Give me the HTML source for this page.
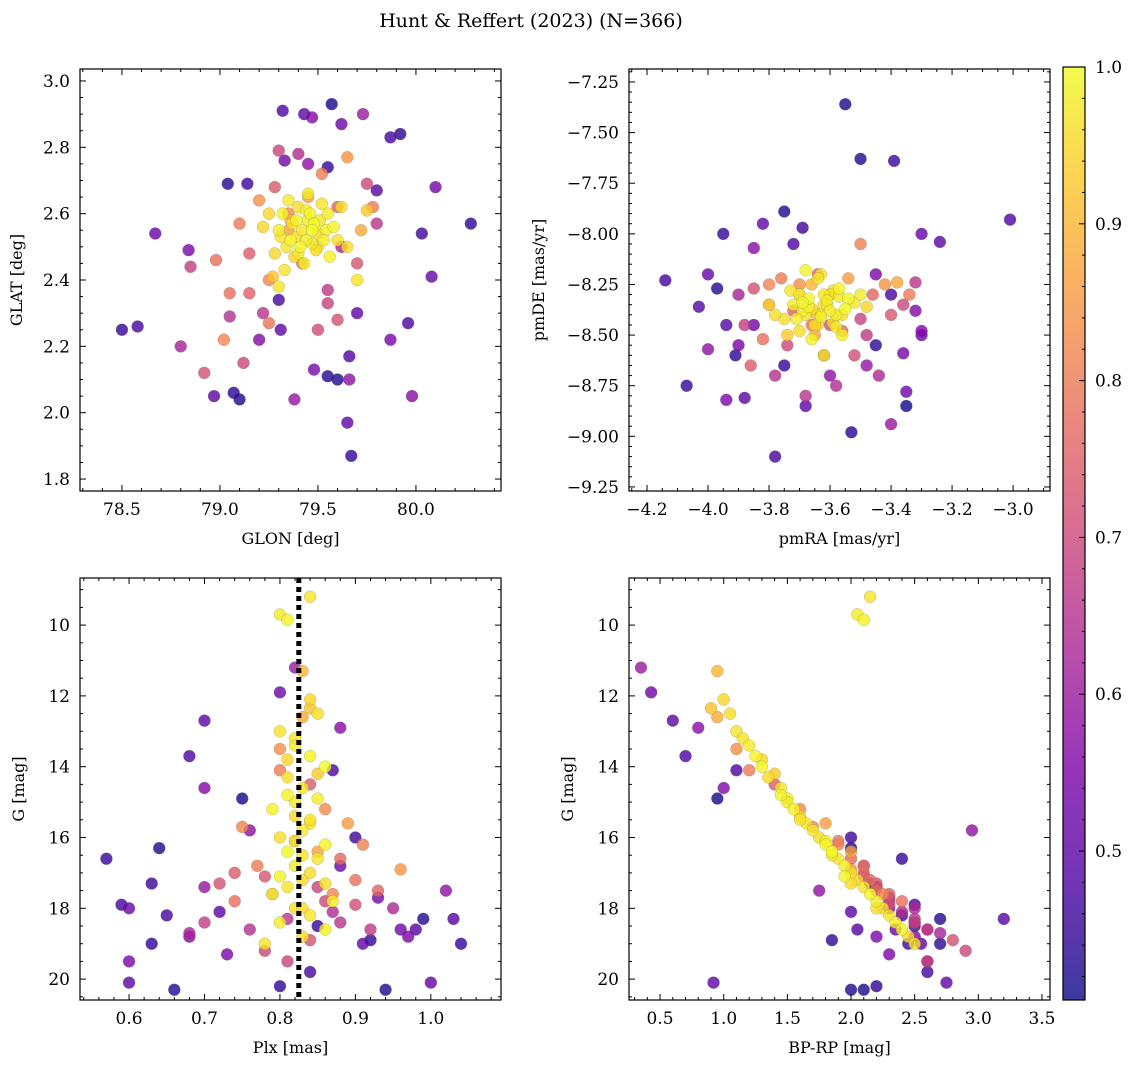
<!DOCTYPE html>
<html><head><meta charset="utf-8">
<style>
body{margin:0;background:#fff;}
svg{display:block;font-family:"DejaVu Serif","Liberation Serif",serif;}
</style></head>
<body>
<svg id="chart" width="1136" height="1068" viewBox="0 0 1136 1068" xmlns="http://www.w3.org/2000/svg">
<defs>
<linearGradient id="plasma" x1="0" y1="1" x2="0" y2="0">
<stop offset="0" stop-color="#0d0887"/><stop offset="0.125" stop-color="#4c02a1"/>
<stop offset="0.25" stop-color="#7e03a8"/><stop offset="0.375" stop-color="#a92395"/>
<stop offset="0.5" stop-color="#cc4778"/><stop offset="0.625" stop-color="#e66c5c"/>
<stop offset="0.75" stop-color="#f89540"/><stop offset="0.875" stop-color="#fdc527"/>
<stop offset="1" stop-color="#f0f921"/></linearGradient>
</defs>
<text x="531" y="27" text-anchor="middle" font-size="19">Hunt &amp; Reffert (2023) (N=366)</text>
</svg>
<script>
const glon=[78.5,78.58,78.67,78.84,78.97,79.07,79.1,79.04,79.14,79.32,79.43,79.47,79.57,79.62,79.73,79.92,79.87,79.6,79.65,79.67,79.66,79.66,79.55,79.87,79.98,79.96,80.03,80.08,80.1,80.28,79.38,79.31,79.3,79.2,79.45,79.55,79.33,79.8,79.7,79.48,
78.8,78.85,78.92,78.98,79.02,79.05,79.1,79.12,79.15,79.2,79.22,79.25,79.28,79.3,79.35,79.4,79.42,79.45,79.5,79.52,79.55,79.6,79.62,79.65,79.7,79.72,79.75,79.78,79.8,79.15,79.05,79.35,79.55,79.25,79.6,
79.3,79.32,79.34,79.36,79.38,79.4,79.42,79.44,79.46,79.48,79.5,79.52,79.54,79.56,79.28,79.31,79.35,79.39,79.43,79.47,79.51,79.55,79.6,79.25,79.37,79.41,79.45,79.49,79.33,79.53,79.58,79.62,79.7,79.75,79.22,79.27,79.45,79.4,79.36,79.5,79.44,79.47,79.39,79.65,79.3];
const glat=[2.25,2.26,2.54,2.49,2.05,2.06,2.04,2.69,2.69,2.91,2.9,2.89,2.93,2.87,2.9,2.84,2.83,2.1,1.97,1.87,2.17,2.1,2.11,2.22,2.05,2.27,2.54,2.41,2.68,2.57,2.04,2.25,2.34,2.22,2.75,2.74,2.76,2.67,2.3,2.13,
2.2,2.44,2.12,2.46,2.22,2.29,2.57,2.15,2.36,2.64,2.3,2.27,2.68,2.79,2.6,2.78,2.45,2.65,2.25,2.72,2.37,2.62,2.5,2.77,2.45,2.55,2.69,2.62,2.57,2.48,2.36,2.55,2.33,2.4,2.28,
2.55,2.6,2.5,2.58,2.47,2.62,2.55,2.52,2.6,2.57,2.5,2.63,2.55,2.47,2.48,2.53,2.64,2.53,2.45,2.55,2.58,2.6,2.52,2.6,2.57,2.5,2.66,2.49,2.43,2.52,2.56,2.62,2.4,2.61,2.56,2.41,2.58,2.48,2.52,2.54,2.61,2.51,2.58,2.5,2.38];
const pmra=[-4.07,-4.14,-4.0,-3.94,-3.88,-3.91,-3.55,-3.5,-3.39,-3.01,-3.24,-3.3,-3.35,-3.35,-3.4,-3.53,-3.78,-3.75,-3.82,-3.95,-4.03,-4.0,-3.97,-3.9,-3.85,-3.72,-3.69,-3.3,-3.36,-3.45,-3.48,-3.68,-3.4,-3.32,-3.6,-3.75,-3.85,-3.94,-3.3,-3.45,
-3.9,-3.88,-3.85,-3.82,-3.8,-3.78,-3.76,-3.74,-3.72,-3.7,-3.68,-3.66,-3.64,-3.62,-3.6,-3.58,-3.56,-3.54,-3.52,-3.5,-3.48,-3.46,-3.44,-3.42,-3.4,-3.38,-3.36,-3.34,-3.32,-3.86,-3.8,-3.65,-3.5,-3.7,-3.6,
-3.72,-3.7,-3.68,-3.66,-3.64,-3.62,-3.6,-3.58,-3.56,-3.54,-3.75,-3.73,-3.69,-3.67,-3.65,-3.63,-3.61,-3.59,-3.57,-3.55,-3.52,-3.5,-3.78,-3.8,-3.62,-3.66,-3.6,-3.7,-3.64,-3.58,-3.68,-3.56,-3.62,-3.74,-3.48,-3.65,-3.63,-3.61,-3.67,-3.59,-3.71,-3.57,-3.69,-3.66,-3.63];
const pmde=[-8.75,-8.23,-8.2,-8.82,-8.81,-8.6,-7.36,-7.63,-7.64,-7.93,-8.04,-8.48,-8.85,-8.78,-8.94,-8.98,-9.1,-7.89,-7.95,-8.0,-8.36,-8.57,-8.27,-8.55,-8.07,-8.05,-7.97,-8.5,-8.59,-8.55,-8.65,-8.85,-8.3,-8.38,-8.7,-8.65,-8.45,-8.45,-8.0,-8.2,
-8.3,-8.45,-8.27,-8.52,-8.25,-8.7,-8.22,-8.55,-8.38,-8.25,-8.8,-8.45,-8.2,-8.6,-8.3,-8.75,-8.48,-8.22,-8.6,-8.05,-8.5,-8.3,-8.7,-8.25,-8.4,-8.24,-8.35,-8.3,-8.24,-8.65,-8.35,-8.5,-8.42,-8.3,-8.45,
-8.35,-8.3,-8.4,-8.25,-8.45,-8.35,-8.3,-8.4,-8.5,-8.32,-8.42,-8.28,-8.38,-8.36,-8.45,-8.2,-8.33,-8.44,-8.27,-8.37,-8.34,-8.3,-8.4,-8.35,-8.6,-8.52,-8.38,-8.48,-8.22,-8.46,-8.18,-8.4,-8.3,-8.5,-8.36,-8.39,-8.41,-8.35,-8.32,-8.28,-8.42,-8.31,-8.34,-8.37,-8.4];
const plx=[0.57,0.59,0.6,0.6,0.6,0.63,0.64,0.66,0.63,0.68,0.7,0.7,0.75,0.8,0.82,0.8,0.84,0.94,1.0,1.04,1.03,1.02,0.99,0.97,0.88,0.87,0.9,0.88,0.93,0.92,0.7,0.72,0.65,0.68,0.76,0.85,0.96,0.98,0.91,0.73,
0.68,0.7,0.72,0.74,0.75,0.76,0.77,0.78,0.79,0.8,0.81,0.82,0.84,0.85,0.86,0.87,0.88,0.89,0.9,0.91,0.92,0.93,0.95,0.96,0.78,0.83,0.86,0.8,0.88,0.74,0.9,0.85,0.81,0.87,0.84,
0.8,0.81,0.84,0.83,0.84,0.85,0.8,0.82,0.84,0.86,0.81,0.83,0.85,0.79,0.82,0.84,0.83,0.8,0.86,0.81,0.85,0.82,0.84,0.83,0.81,0.79,0.87,0.82,0.84,0.8,0.86,0.83,0.78,0.85,0.81,0.84,0.82,0.83,0.8,0.86,0.82,0.84,0.81,0.83,0.82];
const gmag=[16.6,17.9,18.0,19.5,20.1,19.0,16.3,20.3,17.3,13.7,12.7,14.6,14.9,11.9,11.2,20.2,19.8,20.3,20.1,19.0,18.3,17.5,18.3,18.8,12.9,14.1,16.0,16.8,17.7,18.9,17.4,18.1,18.2,18.8,15.8,18.5,18.6,18.6,19.0,19.3,
18.7,18.4,17.3,17.8,15.7,18.6,16.8,19.2,17.6,13.5,18.3,16.1,14.5,17.4,15.2,18.1,16.6,15.6,17.9,16.2,18.6,17.5,18.0,16.9,17.1,12.6,17.8,14.1,18.4,17.0,17.2,16.4,19.5,17.6,18.9,
9.7,9.85,9.2,11.3,12.1,12.5,13.0,13.4,13.7,14.0,14.3,14.6,14.9,15.2,15.4,15.6,15.8,16.0,16.2,16.4,16.6,16.8,17.0,17.2,17.4,17.6,17.8,18.0,18.2,18.4,18.6,18.8,19.0,14.2,13.8,12.35,15.0,16.5,17.1,17.3,16.1,15.5,14.8,18.0,13.2];
const bprp=[2.4,2.5,2.3,2.6,0.92,2.7,2.0,2.0,2.15,0.7,0.6,1.0,0.95,0.43,0.35,2.2,2.6,2.1,2.75,2.45,3.2,1.75,2.7,2.2,0.8,1.1,2.0,2.1,2.3,1.85,2.2,2.0,2.4,2.5,2.95,2.5,2.35,2.05,2.55,2.3,
2.7,2.5,2.2,2.4,1.7,2.6,2.1,2.9,2.3,1.1,2.5,1.9,1.4,2.2,1.6,2.4,2.0,1.8,2.3,1.9,2.6,2.2,2.5,2.0,2.1,0.95,2.3,1.2,2.5,2.1,2.15,2.0,2.6,2.25,2.8,
2.05,2.1,2.15,0.95,1.0,1.05,1.1,1.2,1.25,1.3,1.35,1.45,1.5,1.55,1.6,1.65,1.7,1.75,1.8,1.85,1.9,1.95,2.0,2.05,2.1,2.15,2.2,2.25,2.3,2.35,2.4,2.45,2.5,1.4,1.3,0.9,1.5,1.85,1.95,2.0,1.8,1.6,1.45,2.2,1.15];
const prob=[0.45,0.47,0.52,0.55,0.5,0.44,0.42,0.43,0.46,0.48,0.5,0.56,0.41,0.53,0.6,0.44,0.47,0.42,0.51,0.45,0.49,0.58,0.43,0.55,0.57,0.48,0.46,0.52,0.54,0.44,0.59,0.5,0.47,0.56,0.58,0.45,0.53,0.49,0.51,0.55,
0.62,0.68,0.72,0.78,0.82,0.65,0.8,0.7,0.75,0.84,0.66,0.79,0.74,0.69,0.83,0.64,0.77,0.86,0.71,0.81,0.67,0.76,0.63,0.85,0.73,0.88,0.7,0.8,0.66,0.74,0.78,0.87,0.69,0.82,0.72,
0.98,0.99,0.97,0.9,0.95,0.96,0.97,0.98,0.99,1.0,0.96,0.97,0.98,0.99,0.95,0.97,0.98,0.96,0.99,1.0,0.97,0.98,0.96,0.95,0.97,0.99,0.98,0.96,0.97,0.98,0.99,0.96,0.97,0.93,0.95,0.92,0.98,0.97,0.99,0.96,0.98,0.97,0.99,0.96,0.97];
const cbTicks=[0.5,0.6,0.7,0.8,0.9,1.0];
const plxMean=[0.825];

const NS='http://www.w3.org/2000/svg';
const svg=document.getElementById('chart');
function mk(tag,attrs,parent){const e=document.createElementNS(NS,tag);for(const k in attrs)e.setAttribute(k,attrs[k]);(parent||svg).appendChild(e);return e;}
const PL=[[13,8,135],[76,2,161],[126,3,168],[169,35,149],[204,71,120],[230,108,92],[248,149,64],[253,197,39],[240,249,33]];
const VMIN=0.405,VMAX=1.0;
function cmap(v){let t=Math.max(0,Math.min(1,(v-VMIN)/(VMAX-VMIN)))*8;let i=Math.min(7,Math.floor(t)),f=t-i;const a=PL[i],b=PL[i+1];return 'rgb('+a.map((c,k)=>Math.round(c+(b[k]-c)*f)).join(',')+')';}
function fmt(v,d){const s=Math.abs(v).toFixed(d);return (v<-1e-9?'\u2212':'')+s;}

function panel(o){
  const g=mk('g',{});
  
  
  const X=v=>o.x0+(v-o.xr[0])/(o.xr[1]-o.xr[0])*(o.x1-o.x0);
  const Y=o.yinv?(v=>o.y0+(v-o.yr[0])/(o.yr[1]-o.yr[0])*(o.y1-o.y0)):(v=>o.y1-(v-o.yr[0])/(o.yr[1]-o.yr[0])*(o.y1-o.y0));
  const clip='c'+o.name;
  const cp=mk('clipPath',{id:clip},g);mk('rect',{x:o.x0,y:o.y0,width:o.x1-o.x0,height:o.y1-o.y0},cp);
  const pts=mk('g',{'clip-path':'url(#'+clip+')'},g);
  
  
  const idx=o.xs.map((_,i)=>i).sort((a,b)=>prob[a]-prob[b]);
  idx.forEach(i=>{const c=mk('circle',{cx:X(o.xs[i]),cy:Y(o.ys[i]),r:6,fill:cmap(prob[i]),'fill-opacity':0.8,stroke:'#666','stroke-width':0.4,'stroke-opacity':0.5},pts);
    
    });
  if(o.extra)o.extra(pts,X,Y);
  const fr=mk('rect',{x:o.x0,y:o.y0,width:o.x1-o.x0,height:o.y1-o.y0,fill:'none',stroke:'#000','stroke-width':1.2},g);
  
  
  const eps=1e-9;
  for(let v=Math.ceil(o.xr[0]/o.xmin-eps)*o.xmin;v<=o.xr[1]+eps;v+=o.xmin){
    const px=X(v);const maj=Math.abs(v/o.xmaj-Math.round(v/o.xmaj))<1e-6;const L=maj?6:3;
    mk('line',{x1:px,x2:px,y1:o.y1,y2:o.y1-L,stroke:'#000','stroke-width':1},g);
    mk('line',{x1:px,x2:px,y1:o.y0,y2:o.y0+L,stroke:'#000','stroke-width':1},g);
    if(maj){const t=mk('text',{x:px,y:o.y1+24,'text-anchor':'middle','font-size':17},g);t.textContent=fmt(v,o.xd);
      
      }
  }
  for(let v=Math.ceil(o.yr[0]/o.ymin-eps)*o.ymin;v<=o.yr[1]+eps;v+=o.ymin){
    const py=Y(v);const maj=Math.abs(v/o.ymaj-Math.round(v/o.ymaj))<1e-6;const L=maj?6:3;
    mk('line',{x1:o.x0,x2:o.x0+L,y1:py,y2:py,stroke:'#000','stroke-width':1},g);
    mk('line',{x1:o.x1,x2:o.x1-L,y1:py,y2:py,stroke:'#000','stroke-width':1},g);
    if(maj){const t=mk('text',{x:o.x0-10,y:py+6,'text-anchor':'end','font-size':17},g);t.textContent=fmt(v,o.yd);
      
      }
  }
  const xl=mk('text',{x:(o.x0+o.x1)/2,y:o.y1+53,'text-anchor':'middle','font-size':16},g);xl.textContent=o.xlab;
  
  
  const yx=o.x0-o.ylo;const yy=(o.y0+o.y1)/2;
  const yl=mk('text',{x:yx,y:yy,'text-anchor':'middle','font-size':16,transform:'rotate(-90 '+yx+' '+yy+')'},g);yl.textContent=o.ylab;
  
  
}
panel({name:'glon-glat-panel',x0:80,x1:501,y0:69,y1:491,xr:[78.286,80.434],yr:[1.764,3.036],xs:glon,ys:glat,xmaj:0.5,xmin:0.1,ymaj:0.2,ymin:0.05,xd:1,yd:1,xlab:'GLON [deg]',ylab:'GLAT [deg]',ylo:58});
panel({name:'proper-motion-panel',x0:629,x1:1050,y0:69,y1:491,xr:[-4.259,-2.879],yr:[-9.27,-7.186],xs:pmra,ys:pmde,xmaj:0.2,xmin:0.05,ymaj:0.25,ymin:0.05,xd:1,yd:2,xlab:'pmRA [mas/yr]',ylab:'pmDE [mas/yr]',ylo:85});
panel({name:'plx-g-panel',x0:80,x1:501,y0:578,y1:1000,xr:[0.535,1.093],yr:[8.67,20.59],yinv:true,xs:plx,ys:gmag,xmaj:0.1,xmin:0.02,ymaj:2,ymin:0.5,xd:1,yd:0,xlab:'Plx [mas]',ylab:'G [mag]',ylo:56,
  extra:(p,X,Y)=>{plxMean.forEach(m=>{const l=mk('line',{x1:X(m),x2:X(m),y1:578,y2:1000,stroke:'#000','stroke-width':5,'stroke-dasharray':'5,4'},p);
    
    });}});
panel({name:'cmd-panel',x0:629,x1:1050,y0:578,y1:1000,xr:[0.256,3.563],yr:[8.67,20.59],yinv:true,xs:bprp,ys:gmag,xmaj:0.5,xmin:0.1,ymaj:2,ymin:0.5,xd:1,yd:0,xlab:'BP-RP [mag]',ylab:'G [mag]',ylo:56});

const cb=mk('g',{});


const cy0=67,cy1=1000,cx0=1063,cx1=1085;
mk('rect',{x:cx0,y:cy0,width:cx1-cx0,height:cy1-cy0,fill:'url(#plasma)','fill-opacity':0.8},cb);
mk('rect',{x:cx0,y:cy0,width:cx1-cx0,height:cy1-cy0,fill:'none',stroke:'#000','stroke-width':1.2},cb);
const CY=v=>cy1-(v-VMIN)/(VMAX-VMIN)*(cy1-cy0);
for(let v=0.42;v<=1.0001;v+=0.02){const py=CY(v);const maj=Math.abs(v*10-Math.round(v*10))<1e-6;
  mk('line',{x1:cx1,x2:cx1-(maj?6:3),y1:py,y2:py,stroke:'#000','stroke-width':1},cb);}
cbTicks.forEach(v=>{const t=mk('text',{x:cx1+10,y:CY(v)+6,'font-size':17},cb);t.textContent=v.toFixed(1);
  
  });
</script>
</body></html>
